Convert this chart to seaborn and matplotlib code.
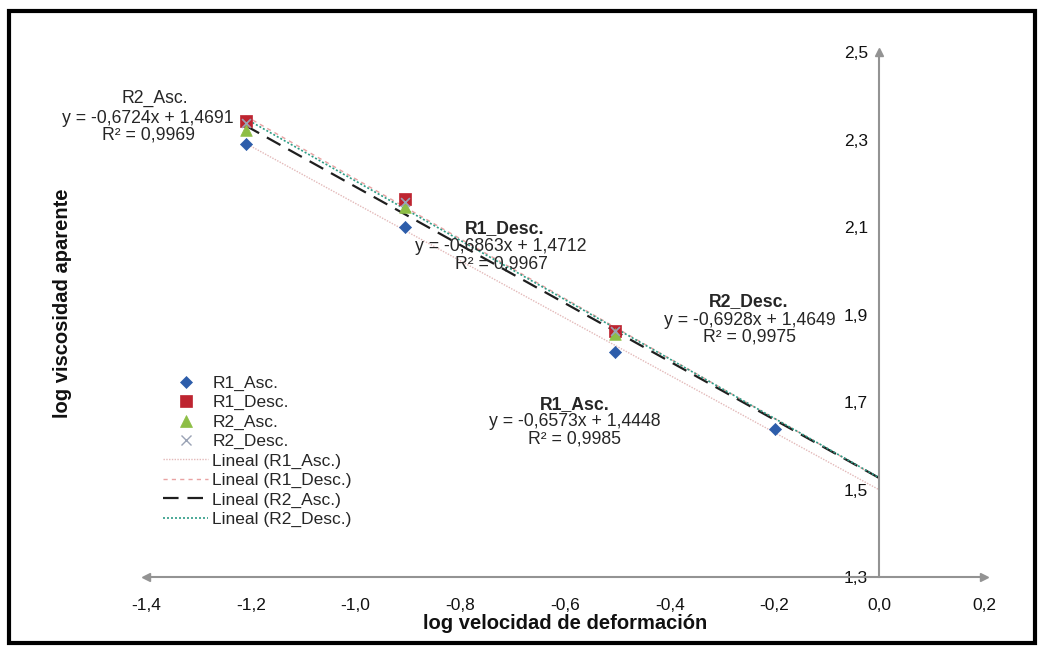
import numpy as np
import pandas as pd
import matplotlib
matplotlib.use("Agg")
import matplotlib.pyplot as plt
from matplotlib.lines import Line2D
from matplotlib.patches import Rectangle
import seaborn as sns

# ---------------- data ----------------
x_r1_asc = [-1.21, -0.905, -0.505, -0.20]
y_r1_asc = [2.290, 2.100, 1.815, 1.638]

x_r1_desc = [-1.21, -0.905, -0.505]
y_r1_desc = [2.343, 2.164, 1.863]

x_r2_asc = [-1.21, -0.905, -0.505]
y_r2_asc = [2.322, 2.146, 1.855]

x_r2_desc = [-1.21, -0.905, -0.505]
y_r2_desc = [2.338, 2.158, 1.862]

series_names = ["R1_Asc.", "R1_Desc.", "R2_Asc.", "R2_Desc."]
trend_names = ["Lineal (R1_Asc.)", "Lineal (R1_Desc.)", "Lineal (R2_Asc.)", "Lineal (R2_Desc.)"]

eq_texts = ["y = -0,6573x + 1,4448\nR² = 0,9985",
            "y = -0,6863x + 1,4712\nR² = 0,9967",
            "y = -0,6724x + 1,4691\nR² = 0,9969",
            "y = -0,6928x + 1,4649\nR² = 0,9975"]

xticks = [-1.4, -1.2, -1.0, -0.8, -0.6, -0.4, -0.2, 0.0, 0.2]
xticklabels = ["-1,4", "-1,2", "-1,0", "-0,8", "-0,6", "-0,4", "-0,2", "0,0", "0,2"]
yticks = [1.3, 1.5, 1.7, 1.9, 2.1, 2.3, 2.5]
yticklabels = ["1,3", "1,5", "1,7", "1,9", "2,1", "2,3", "2,5"]

# ---------------- style ----------------
sns.set_style("white")
plt.rcParams["font.family"] = ["Liberation Sans", "DejaVu Sans"]

fig = plt.figure(figsize=(10.4, 6.48), dpi=100)
ax = fig.add_axes([146 / 1040, 1 - 577 / 648, (984 - 146) / 1040, (577 - 52) / 648])

axis_grey = "#939393"

marker_specs = [
    (x_r1_asc, y_r1_asc, "D", "#2D5DAA", 38),
    (x_r1_desc, y_r1_desc, "s", "#BE2430", 70),
    (x_r2_asc, y_r2_asc, "^", "#8DBE45", 70),
    (x_r2_desc, y_r2_desc, "x", "#9AA3B5", 40),
]

line_specs = [
    dict(color="#E3B9B9", lw=1.0, ls=(0, (1, 1))),
    dict(color="#E9A3A3", lw=1.0, ls=(0, (3, 3))),
    dict(color="#1f1f1f", lw=1.6, ls=(0, (7, 4))),
    dict(color="#2E9C86", lw=1.2, ls=(0, (1.2, 1.2))),
]

xs_all = [x_r1_asc, x_r1_desc, x_r2_asc, x_r2_desc]
ys_all = [y_r1_asc, y_r1_desc, y_r2_asc, y_r2_desc]

# trend lines (least squares fits, extended forward to x = 0)
line_handles = []
for xs, ys, spec, name in zip(xs_all, ys_all, line_specs, trend_names):
    k, b = np.polyfit(xs, ys, 1)
    xl = np.array([min(xs), 0.0])
    h, = ax.plot(xl, k * xl + b, color=spec["color"], lw=spec["lw"],
                 linestyle=spec["ls"], label=name, zorder=2)
    line_handles.append(h)

marker_handles = []
for (xs, ys, m, c, s), name in zip(marker_specs, series_names):
    df = pd.DataFrame({"x": xs, "y": ys})
    if m == "x":
        sns.scatterplot(data=df, x="x", y="y", marker=m, color=c, s=s,
                        linewidth=1.2, ax=ax, zorder=3)
    else:
        sns.scatterplot(data=df, x="x", y="y", marker=m, color=c, s=s,
                        edgecolor=c, linewidth=0.5, ax=ax, zorder=3)
    ms = {"D": 6, "s": 8, "^": 8, "x": 7}[m]
    marker_handles.append(Line2D([], [], linestyle="none", marker=m, color=c,
                                 markersize=ms, markeredgewidth=1.0 if m == "x" else 0.5))

ax.set_xlim(-1.4, 0.2)
ax.set_ylim(1.3, 2.5)

for side in ["top", "right"]:
    ax.spines[side].set_visible(False)
ax.spines["left"].set_position(("data", 0.0))
for side in ["left", "bottom"]:
    ax.spines[side].set_color(axis_grey)
    ax.spines[side].set_linewidth(1.5)

# arrow heads
ax.plot([1], [0], marker=">", color=axis_grey, markersize=6, transform=ax.transAxes, clip_on=False)
ax.plot([0], [0], marker="<", color=axis_grey, markersize=6, transform=ax.transAxes, clip_on=False)
ax.plot([0.0], [2.5], marker="^", color=axis_grey, markersize=6, clip_on=False)

ax.set_xticks(xticks)
ax.set_xticklabels(xticklabels)
ax.set_yticks(yticks)
ax.set_yticklabels(yticklabels)
ax.tick_params(axis="x", direction="in", length=4, color=axis_grey, pad=15,
               labelsize=12.5, labelcolor="#111111")
ax.tick_params(axis="y", direction="out", length=4, color=axis_grey, pad=4,
               labelsize=12.5, labelcolor="#111111")

ax.set_xlabel("log velocidad de deformación", fontsize=14.5, fontweight="bold",
              labelpad=1, color="#111111")
ax.set_ylabel("")
fig.text(62 / 1040, 1 - 303 / 648, "log viscosidad aparente", rotation=90,
         fontsize=14.5, fontweight="bold", ha="center", va="center", color="#111111")

# equation annotations
ann_fs = 12.7
ls_ = 1.0
ax.text(-0.581, 1.695, "R1_Asc.", ha="center", va="center", fontsize=ann_fs, fontweight="bold")
ax.text(-0.581, 1.635, eq_texts[0], ha="center", va="center", fontsize=ann_fs, linespacing=ls_)
ax.text(-0.7146, 2.0954, "R1_Desc.", ha="center", va="center", fontsize=ann_fs, fontweight="bold")
ax.text(-0.722, 2.035, eq_texts[1], ha="center", va="center", fontsize=ann_fs, linespacing=ls_)
ax.text(-1.383, 2.393, "R2_Asc.", ha="center", va="center", fontsize=ann_fs)
ax.text(-1.396, 2.329, eq_texts[2], ha="center", va="center", fontsize=ann_fs, linespacing=ls_)
ax.text(-0.2487, 1.9286, "R2_Desc.", ha="center", va="center", fontsize=ann_fs, fontweight="bold")
ax.text(-0.2468, 1.867, eq_texts[3], ha="center", va="center", fontsize=ann_fs, linespacing=ls_)

# legend
handles = marker_handles + line_handles
labels = series_names + trend_names
ax.legend(handles, labels, loc="upper left", bbox_to_anchor=(0.012, 0.397),
          frameon=False, fontsize=12.5, handlelength=2.6, handletextpad=0.25,
          labelspacing=0.24, borderaxespad=0.0)

# outer black frame
fig.patches.append(Rectangle((8.5 / 1040, 5 / 648), (1035 - 8.5) / 1040, (637 - 5) / 648,
                             transform=fig.transFigure, fill=False, edgecolor="black",
                             linewidth=3, zorder=10))

fig.savefig("out.png", dpi=100, facecolor="white")
